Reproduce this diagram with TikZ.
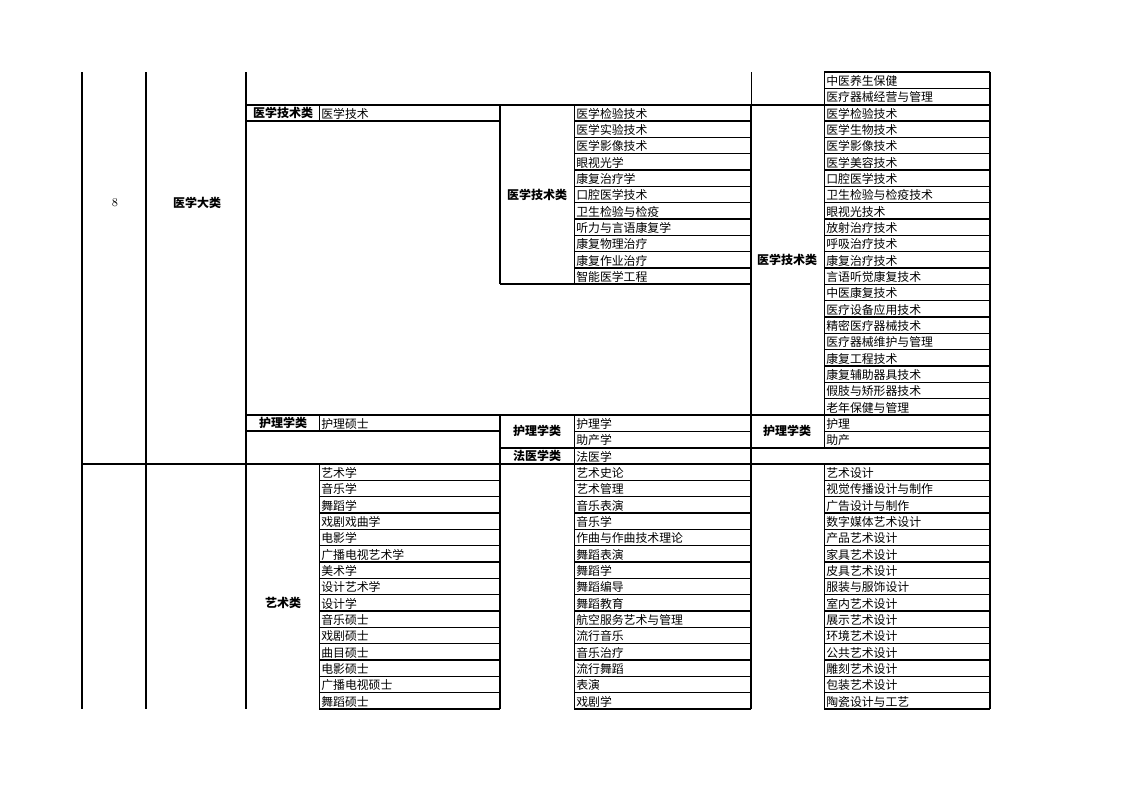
\documentclass[tikz,border=0pt]{standalone}
\usepackage{fontspec}
\newfontfamily\cjk{Noto Sans CJK SC}
\newcommand{\ry}[1]{72+#1*16.33}
\tikzset{
  frame/.style={line width=1.4pt},
  rule/.style={line width=1pt},
  hair/.style={line width=0.45pt},
  item/.style={anchor=west, inner sep=0pt, font=\cjk\fontsize{8.9}{9}\selectfont},
  head/.style={inner sep=0pt, font=\cjk\bfseries\fontsize{9}{9}\selectfont},
}
\begin{document}
\begin{tikzpicture}[x=0.75pt,y=-0.75pt]
		\useasboundingbox (0,0) rectangle (1122,794);
		% main columns
		\foreach \cx in {82,146,246,990}
			\draw [frame] (\cx,{\ry{0}}) -- (\cx,{\ry{39}});
		\draw [frame] (500,{\ry{2}}) -- (500,{\ry{13}});
		\draw [frame] (500,{\ry{21}}) -- (500,{\ry{39}});
		\draw [hair] (751,{\ry{0}}) -- (751,{\ry{2}});
		\draw [frame] (751,{\ry{2}}) -- (751,{\ry{39}});
		% main rows
		\draw [frame] (246,{\ry{2}}) -- (990,{\ry{2}});
		\draw [frame] (246,{\ry{3}}) -- (500,{\ry{3}});
		\draw [frame] (500,{\ry{13}}) -- (751,{\ry{13}});
		\draw [frame] (246,{\ry{21}}) -- (990,{\ry{21}});
		\draw [frame] (246,{\ry{22}}) -- (500,{\ry{22}});
		\draw [frame] (500,{\ry{23}}) -- (990,{\ry{23}});
		\draw [frame] (82,{\ry{24}}) -- (990,{\ry{24}});
		% item borders
		\draw [hair] (319,{\ry{2}}) -- (319,{\ry{3}});
		\draw [hair] (319,{\ry{21}}) -- (319,{\ry{22}});
		\draw [hair] (319,{\ry{24}}) -- (319,{\ry{39}});
		\draw [hair] (574,{\ry{2}}) -- (574,{\ry{13}});
		\draw [hair] (574,{\ry{21}}) -- (574,{\ry{39}});
		\draw [hair] (824,{\ry{0}}) -- (824,{\ry{23}});
		\draw [hair] (824,{\ry{24}}) -- (824,{\ry{39}});
		\draw [rule] (824,{\ry{0}}) -- (990,{\ry{0}});
		\foreach \r in {1,3,4,...,20,22}
			\draw [rule] (824,{\ry{\r}}) -- (990,{\ry{\r}});
		\foreach \r in {3,4,...,12,22}
			\draw [rule] (574,{\ry{\r}}) -- (751,{\ry{\r}});
		\foreach \r in {25,26,...,39} {
			\draw [rule] (319,{\ry{\r}}) -- (500,{\ry{\r}});
			\draw [rule] (574,{\ry{\r}}) -- (751,{\ry{\r}});
			\draw [rule] (824,{\ry{\r}}) -- (990,{\ry{\r}});
		}
		% headings
		\node (num) at (115,203) {\fontsize{9}{9}\selectfont 8};
		\node [head] (big) at (197,203) {医学大类};
		\node [head] (techA) at (283,{\ry{2.5}}) {医学技术类};
		\node [head] (techB) at (537,{\ry{7.5}}) {医学技术类};
		\node [head] (techC) at (787,{\ry{11.5}}) {医学技术类};
		\node [head] (nurseA) at (283,{\ry{21.5}}) {护理学类};
		\node [head] (nurseB) at (537,{\ry{22}}) {护理学类};
		\node [head] (nurseC) at (787,{\ry{22}}) {护理学类};
		\node [head] (forensic) at (537,{\ry{23.5}}) {法医学类};
		\node [head] (artA) at (283,603) {艺术类};
		% items
		\node [item] (techA-1) at (321,{\ry{2}+9}) {医学技术};
		\node [item] (nurseA-1) at (321,{\ry{21}+9}) {护理硕士};
		\node [item] (nurseB-1) at (576,{\ry{21}+9}) {护理学};
		\node [item] (nurseB-2) at (576,{\ry{22}+9}) {助产学};
		\node [item] (forensic-1) at (576,{\ry{23}+9}) {法医学};
		\node [item] (nurseC-1) at (826,{\ry{21}+9}) {护理};
		\node [item] (nurseC-2) at (826,{\ry{22}+9}) {助产};
		\foreach \t [count=\k from 2] in {医学检验技术,医学实验技术,医学影像技术,眼视光学,康复治疗学,口腔医学技术,卫生检验与检疫,听力与言语康复学,康复物理治疗,康复作业治疗,智能医学工程}
			\node [item] (techB-\k) at (576,{\ry{\k}+9}) {\t};
		\foreach \t [count=\k from 0] in {中医养生保健,医疗器械经营与管理,医学检验技术,医学生物技术,医学影像技术,医学美容技术,口腔医学技术,卫生检验与检疫技术,眼视光技术,放射治疗技术,呼吸治疗技术,康复治疗技术,言语听觉康复技术,中医康复技术,医疗设备应用技术,精密医疗器械技术,医疗器械维护与管理,康复工程技术,康复辅助器具技术,假肢与矫形器技术,老年保健与管理}
			\node [item] (techC-\k) at (826,{\ry{\k}+9}) {\t};
		\foreach \t [count=\k from 24] in {艺术学,音乐学,舞蹈学,戏剧戏曲学,电影学,广播电视艺术学,美术学,设计艺术学,设计学,音乐硕士,戏剧硕士,曲目硕士,电影硕士,广播电视硕士,舞蹈硕士}
			\node [item] (artA-\k) at (321,{\ry{\k}+9}) {\t};
		\foreach \t [count=\k from 24] in {艺术史论,艺术管理,音乐表演,音乐学,作曲与作曲技术理论,舞蹈表演,舞蹈学,舞蹈编导,舞蹈教育,航空服务艺术与管理,流行音乐,音乐治疗,流行舞蹈,表演,戏剧学}
			\node [item] (artB-\k) at (576,{\ry{\k}+9}) {\t};
		\foreach \t [count=\k from 24] in {艺术设计,视觉传播设计与制作,广告设计与制作,数字媒体艺术设计,产品艺术设计,家具艺术设计,皮具艺术设计,服装与服饰设计,室内艺术设计,展示艺术设计,环境艺术设计,公共艺术设计,雕刻艺术设计,包装艺术设计,陶瓷设计与工艺}
			\node [item] (artC-\k) at (826,{\ry{\k}+9}) {\t};
	\end{tikzpicture}
\end{document}
